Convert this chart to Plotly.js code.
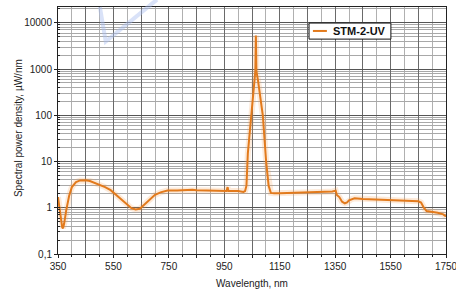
<!DOCTYPE html>
<html>
<head>
<meta charset="utf-8">
<script src="https://cdn.plot.ly/plotly-3.0.1.min.js"></script>
<style>html,body{margin:0;padding:0;background:#fff;}#chart{width:456px;height:292px;}</style>
</head>
<body>
<div id="chart"></div>
<script>
const seriesName = "STM-2-UV";
const wavelength = [350,355,360,365,368,372,380,390,400,415,430,450,465,480,500,520,540,560,580,600,615,630,645,660,680,700,720,745,780,800,835,850,900,950,958,962,965,1000,1019,1025,1030,1035,1048,1058,1062,1064,1066,1072,1089,1101,1110,1118,1130,1150,1200,1250,1300,1340,1352,1356,1365,1375,1385,1393,1400,1410,1420,1450,1500,1550,1600,1650,1660,1670,1680,1700,1720,1740,1750];
const density = [1.7,1.0,0.55,0.38,0.36,0.45,0.9,1.8,2.8,3.6,3.9,3.95,3.8,3.5,3.2,2.8,2.4,1.9,1.5,1.15,0.98,0.92,0.95,1.15,1.5,1.9,2.15,2.35,2.35,2.4,2.45,2.4,2.35,2.35,2.3,2.8,2.3,2.3,2.2,2.3,3,15,100,600,900,5300,900,550,100,10,3,2.1,2.05,2.05,2.1,2.15,2.2,2.25,2.35,1.9,1.7,1.35,1.25,1.3,1.45,1.55,1.6,1.55,1.5,1.45,1.42,1.38,1.3,1.0,0.85,0.82,0.78,0.72,0.65];
const xTickVals = [350,450,550,650,750,850,950,1050,1150,1250,1350,1450,1550,1650,1750];
const xTickText = ["350","","550","","750","","950","","1150","","1350","","1550","","1750"];
const yTickVals = [0.1,1,10,100,1000,10000];
const yTickText = ["0,1","1","10","100","1000","10000"];
const xTitle = "Wavelength, nm";
const yTitle = "Spectral power density, µW/nm";

const orange = "#e27a1c";
const traces = [
  {x: wavelength, y: density, type: "scatter", mode: "lines", showlegend: false, hoverinfo: "skip",
   line: {color: "rgba(245,160,80,0.22)", width: 6}},
  {x: wavelength, y: density, type: "scatter", mode: "lines", name: seriesName, showlegend: false,
   line: {color: orange, width: 2}}
];
const font = "Liberation Sans, Arial, sans-serif";
const layout = {
  width: 456, height: 292,
  margin: {l: 58, r: 10, t: 7, b: 38},
  paper_bgcolor: "#fff", plot_bgcolor: "#fff",
  font: {family: font, size: 10, color: "#222"},
  showlegend: false,
  xaxis: {
    range: [350, 1750], tickvals: xTickVals, ticktext: xTickText,
    showgrid: true, gridcolor: "#6a6a6a", gridwidth: 1,
    showline: true, linecolor: "#222", linewidth: 1, mirror: true,
    ticks: "outside", ticklen: 3, tickcolor: "#222",
    ticklabeloverflow: "allow",
    tickfont: {family: font, size: 10, color: "#222"},
    minor: {dtick: 50, tick0: 350, showgrid: true, gridcolor: "#b0b0b0", ticks: "outside", ticklen: 2, tickcolor: "#222"},
    title: {text: xTitle, font: {family: font, size: 10, color: "#222"}, standoff: 8},
    zeroline: false
  },
  yaxis: {
    type: "log", range: [-1, Math.log10(22000)],
    tickvals: yTickVals, ticktext: yTickText,
    showgrid: true, gridcolor: "#555", gridwidth: 1,
    showline: true, linecolor: "#222", linewidth: 1, mirror: true,
    ticks: "outside", ticklen: 3, tickcolor: "#222",
    tickfont: {family: font, size: 10, color: "#222"},
    minor: {dtick: "D1", showgrid: true, gridcolor: "#a8a8a8", ticks: "inside", ticklen: 2, tickcolor: "#222"},
    zeroline: false
  },
  annotations: [
    {text: yTitle, xref: "paper", yref: "paper", x: -0.103, y: 0.51, xanchor: "center", yanchor: "middle",
     textangle: -90, showarrow: false, font: {family: font, size: 10, color: "#222"}},
    {text: "<b>" + seriesName + "</b>", xref: "paper", yref: "paper", x: 0.703, y: 0.903, xanchor: "left", yanchor: "middle",
     showarrow: false, font: {family: font, size: 11, color: "#111"}}
  ],
  shapes: [
    {type: "path", xref: "paper", yref: "paper", path: "M 0.108 1.0 L 0.123 0.86 L 0.255 1.03",
     line: {color: "rgba(170,190,240,0.45)", width: 4}, layer: "above"},
    {type: "rect", xref: "paper", yref: "paper", x0: 0.647, x1: 0.858, y0: 0.870, y1: 0.935,
     fillcolor: "#fff", line: {color: "#111", width: 1}, layer: "above"},
    {type: "line", xref: "paper", yref: "paper", x0: 0.657, x1: 0.693, y0: 0.903, y1: 0.903,
     line: {color: orange, width: 2}, layer: "above"}
  ]
};
Plotly.newPlot("chart", traces, layout, {staticPlot: true, displayModeBar: false});
</script>
</body>
</html>
